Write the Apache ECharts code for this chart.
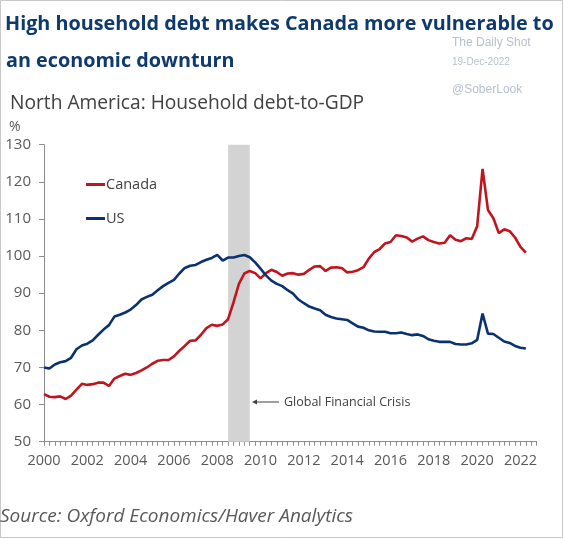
<!DOCTYPE html>
<html>
<head>
<meta charset="utf-8">
<script src="https://cdn.jsdelivr.net/npm/echarts@6/dist/echarts.min.js"></script>
<style>
html,body{margin:0;padding:0;background:#fff;}
#chart{width:564px;height:539px;}
</style>
</head>
<body>
<div id="chart"></div>
<script>
// Quarterly categories, 2000Q1 .. 2022Q4
const quarters = [
'2000Q1','2000Q2','2000Q3','2000Q4','2001Q1','2001Q2','2001Q3','2001Q4',
'2002Q1','2002Q2','2002Q3','2002Q4','2003Q1','2003Q2','2003Q3','2003Q4',
'2004Q1','2004Q2','2004Q3','2004Q4','2005Q1','2005Q2','2005Q3','2005Q4',
'2006Q1','2006Q2','2006Q3','2006Q4','2007Q1','2007Q2','2007Q3','2007Q4',
'2008Q1','2008Q2','2008Q3','2008Q4','2009Q1','2009Q2','2009Q3','2009Q4',
'2010Q1','2010Q2','2010Q3','2010Q4','2011Q1','2011Q2','2011Q3','2011Q4',
'2012Q1','2012Q2','2012Q3','2012Q4','2013Q1','2013Q2','2013Q3','2013Q4',
'2014Q1','2014Q2','2014Q3','2014Q4','2015Q1','2015Q2','2015Q3','2015Q4',
'2016Q1','2016Q2','2016Q3','2016Q4','2017Q1','2017Q2','2017Q3','2017Q4',
'2018Q1','2018Q2','2018Q3','2018Q4','2019Q1','2019Q2','2019Q3','2019Q4',
'2020Q1','2020Q2','2020Q3','2020Q4','2021Q1','2021Q2','2021Q3','2021Q4',
'2022Q1','2022Q2','2022Q3','2022Q4'
];

// Household debt-to-GDP, %
const canada = [
62.8,62.1,62.0,62.2,61.5,62.4,64.0,65.6,
65.3,65.5,65.9,65.9,65.0,67.0,67.7,68.3,
68.0,68.5,69.2,70.0,71.0,71.8,72.0,72.0,
73.0,74.5,75.8,77.2,77.3,78.8,80.6,81.5,
81.2,81.6,83.0,87.5,92.5,95.3,96.0,95.4,
94.0,95.4,96.3,95.7,94.7,95.3,95.4,95.0,
95.2,96.3,97.2,97.3,96.0,96.9,97.0,96.8,
95.6,95.8,96.2,97.0,99.3,101.1,101.9,103.4,
103.8,105.6,105.4,105.0,103.9,104.7,105.3,104.3,
103.8,103.4,103.6,105.6,104.4,104.0,104.8,104.6,
108.0,123.5,112.4,110.2,106.2,107.2,106.7,105.0,
102.5,100.9
];

const us = [
70.0,69.7,70.8,71.4,71.7,72.6,74.9,75.9,
76.4,77.3,78.8,80.2,81.4,83.7,84.2,84.8,
85.6,86.8,88.3,89.0,89.6,90.8,91.9,92.8,
93.6,95.3,96.8,97.4,97.6,98.4,99.0,99.5,
100.3,98.8,99.6,99.6,100.0,100.3,99.7,98.3,
96.6,94.8,93.4,92.5,91.9,90.8,89.9,88.3,
87.3,86.4,85.9,85.4,84.2,83.6,83.2,83.0,
82.8,81.9,81.0,80.7,80.0,79.7,79.6,79.6,
79.2,79.2,79.4,79.0,78.7,78.9,78.5,77.6,
77.2,76.9,76.9,76.9,76.3,76.2,76.2,76.5,
77.4,84.5,79.1,79.0,78.0,77.0,76.6,75.8,
75.3,75.1
];

const xTickLabels = ['2000','2002','2004','2006','2008','2010','2012','2014','2016','2018','2020','2022'];
const yTickLabels = [50,60,70,80,90,100,110,120,130];
const crisisStart = '2008Q3';
const crisisEnd = '2009Q3';

const chart = echarts.init(document.getElementById('chart'), null, {renderer:'canvas'});
const FONT = '"Open Sans", "Noto Sans", sans-serif';
const axisGray = '#8c8c8c';
const labelGray = '#595959';

chart.setOption({
  backgroundColor:'#ffffff',
  animation:false,
  textStyle:{fontFamily:FONT},
  grid:{left:44, right:27.3, top:144.7, bottom:97.3, containLabel:false},
  legend:{
    orient:'vertical', left:81, top:172, itemGap:19,
    itemWidth:19, itemHeight:3, icon:'rect',
    textStyle:{fontFamily:FONT, fontSize:14.5, color:'#404040', padding:[0,0,0,-4]},
    data:['Canada','US']
  },
  xAxis:{
    type:'category', data:quarters, boundaryGap:false,
    axisLine:{lineStyle:{color:axisGray, width:1}},
    axisTick:{show:true, interval:0, length:4, lineStyle:{color:axisGray}},
    axisLabel:{
      interval:7, color:labelGray, fontSize:14.5, margin:12, fontFamily:FONT,
      formatter:function(v){ const y=v.slice(0,4); return xTickLabels.indexOf(y)>=0 && v.endsWith('Q1') ? y : ''; }
    },
    splitLine:{show:false}
  },
  yAxis:{
    type:'value', min:50, max:130, interval:10,
    axisLine:{show:true, lineStyle:{color:axisGray, width:1}},
    axisTick:{show:true, length:5, lineStyle:{color:axisGray}},
    axisLabel:{color:labelGray, fontSize:15, margin:13, fontFamily:FONT,
      formatter:function(v){ return yTickLabels.indexOf(v)>=0 ? String(v) : ''; }},
    splitLine:{show:false}
  },
  series:[
    {
      name:'Canada', type:'line', data:canada, symbol:'none', smooth:false,
      lineStyle:{color:'#c0141e', width:2.6}, itemStyle:{color:'#c0141e'}, z:3,
      markArea:{
        silent:true,
        itemStyle:{color:'#d3d3d3'},
        data:[[{xAxis:crisisStart},{xAxis:crisisEnd}]]
      }
    },
    {
      name:'US', type:'line', data:us, symbol:'none', smooth:false,
      lineStyle:{color:'#0b3270', width:2.6}, itemStyle:{color:'#0b3270'}, z:4
    }
  ],
  graphic:[
    {type:'rect', shape:{x:0.5,y:0.5,width:562,height:537}, style:{fill:'none', stroke:'#c8c8c8', lineWidth:1}, silent:true},
    {type:'text', left:5, top:14, style:{text:'High household debt makes Canada more vulnerable to', font:'bold 19.8px "Open Sans", sans-serif', fill:'#0f3a6d'}},
    {type:'text', left:6, top:51, style:{text:'an economic downturn', font:'bold 19.8px "Open Sans", sans-serif', fill:'#0f3a6d'}},
    {type:'text', left:452, top:37, style:{text:'The Daily Shot', font:'12px "Liberation Sans", sans-serif', fill:'#b6bfcc'}},
    {type:'text', left:452, top:57, style:{text:'19-Dec-2022', font:'10px "Liberation Sans", sans-serif', fill:'#b6bfcc'}},
    {type:'text', left:452, top:84, style:{text:'@SoberLook', font:'12px "Liberation Sans", sans-serif', fill:'#b6bfcc'}},
    {type:'text', left:10, top:94, style:{text:'North America: Household debt-to-GDP', font:'19.2px "Open Sans", sans-serif', fill:'#404040'}},
    {type:'text', left:9, top:120, style:{text:'%', font:'14px "Open Sans", sans-serif', fill:'#595959'}},
    {type:'line', shape:{x1:279, y1:402, x2:255, y2:402}, style:{stroke:'#404040', lineWidth:1}},
    {type:'polygon', shape:{points:[[252,402],[257,399.5],[257,404.5]]}, style:{fill:'#404040'}},
    {type:'text', left:284, top:396, style:{text:'Global Financial Crisis', font:'12.5px "Open Sans", sans-serif', fill:'#404040'}},
    {type:'text', left:0, top:507, style:{text:'Source: Oxford Economics/Haver Analytics', font:'italic 19px "Open Sans", sans-serif', fill:'#595959'}}
  ]
});
</script>
</body>
</html>
